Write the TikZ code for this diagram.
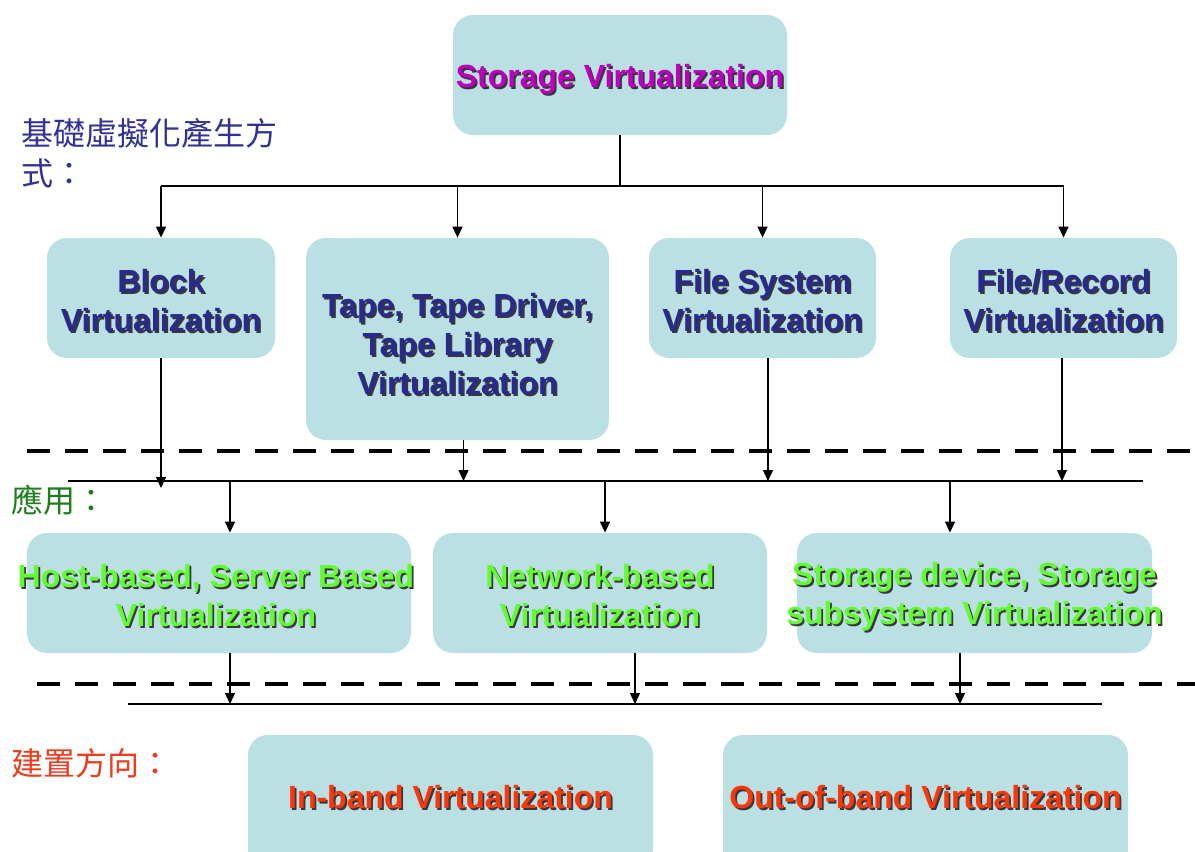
\documentclass[tikz,border=0pt]{standalone}
\usepackage{fontspec}
\setmainfont{Liberation Sans}
\newfontfamily\cjk{Noto Sans CJK TC}
\usetikzlibrary{arrows.meta}

\definecolor{boxfill}{RGB}{186,224,227}
\definecolor{shade}{RGB}{55,55,60}
\definecolor{titlemag}{RGB}{190,0,190}
\definecolor{navytxt}{RGB}{40,42,140}
\definecolor{limetxt}{RGB}{100,250,50}
\definecolor{redtxt}{RGB}{250,55,10}
\definecolor{cjkblue}{RGB}{50,50,150}
\definecolor{cjkgreen}{RGB}{30,125,30}
\definecolor{cjkred}{RGB}{235,60,30}

\tikzset{
  vbox/.style={fill=boxfill, rounded corners=10pt, inner sep=0pt},
  lbl/.style={font=\bfseries\fontsize{16}{19.5}\selectfont, align=center, inner sep=0pt},
  cjklbl/.style={font=\cjk\fontsize{16}{20}\selectfont, align=left, inner sep=0pt},
  conn/.style={line width=0.7pt, black},
  arr/.style={conn, -{Triangle[length=5.5pt,width=5pt]}},
  sep/.style={line width=2pt, dash pattern=on 11.5pt off 7.5pt, black},
}

% text with a dark drop shadow: name, point, colour, text
\newcommand\boxlabel[4]{%
  \node[lbl, text=shade] (#1-s) at ([shift={(0.9pt,-2.4pt)}]#2) {#4};
  \node[lbl, text=#3] (#1-t) at ([yshift=-1.5pt]#2) {#4};}

\begin{document}
\begin{tikzpicture}[x=0.5pt, y=-0.5pt]
\useasboundingbox (0,0) rectangle (1195,852);
\clip (0,0) rectangle (1195,852);
\fill[white] (0,0) rectangle (1195,852);

% separators between the levels
\draw[sep] (27,451) -- (1195,451);
\draw[sep] (37,684) -- (1195,684);

% boxes
\node[vbox, minimum width=167pt, minimum height=60pt] (top) at (620,75) {};
\node[vbox, minimum width=114pt, minimum height=60pt] (block) at (161,298) {};
\node[vbox, minimum width=151.5pt, minimum height=101pt] (tape) at (457.5,339) {};
\node[vbox, minimum width=113.5pt, minimum height=60pt] (fs) at (762.5,298) {};
\node[vbox, minimum width=113.5pt, minimum height=60pt] (fr) at (1063.5,298) {};
\node[vbox, minimum width=192pt, minimum height=60pt] (host) at (219,593) {};
\node[vbox, minimum width=167pt, minimum height=60pt] (net) at (600,593) {};
\node[vbox, minimum width=177.5pt, minimum height=60pt] (sdev) at (974.5,593) {};
\node[vbox, minimum width=202.5pt, minimum height=67.5pt] (inb) at (450.5,802.5) {};
\node[vbox, minimum width=202.5pt, minimum height=67.5pt] (outb) at (925.5,802.5) {};

% box texts
\coordinate (top-c) at ([yshift=-0.5pt]top.center);
\boxlabel{top}{top-c}{titlemag}{Storage Virtualization}
\boxlabel{block}{block.center}{navytxt}{Block\\Virtualization}
\coordinate (tape-c) at ([yshift=-1pt]tape.center);
\boxlabel{tape}{tape-c}{navytxt}{Tape, Tape Driver,\\Tape Library\\Virtualization}
\boxlabel{fs}{fs.center}{navytxt}{File System\\Virtualization}
\boxlabel{fr}{fr.center}{navytxt}{File/Record\\Virtualization}
\coordinate (host-c) at ([xshift=-1.5pt]host.center);
\boxlabel{host}{host-c}{limetxt}{Host-based, Server Based\\Virtualization}
\boxlabel{net}{net.center}{limetxt}{Network-based\\Virtualization}
\coordinate (sdev-c) at ([yshift=-0.5pt]sdev.center);
\boxlabel{sdev}{sdev-c}{limetxt}{Storage device, Storage\\subsystem Virtualization}
\coordinate (inb-c) at ([yshift=4pt]inb.center);
\boxlabel{inb}{inb-c}{redtxt}{In-band Virtualization}
\coordinate (outb-c) at ([yshift=4pt]outb.center);
\boxlabel{outb}{outb-c}{redtxt}{Out-of-band Virtualization}

% level captions
\node[cjklbl, text=cjkblue, anchor=north west] (cap1) at (21,118) {基礎虛擬化產生方\\式：};
\node[cjklbl, text=cjkgreen, anchor=west] (cap2) at (11,500) {應用：};
\node[cjklbl, text=cjkred, anchor=west] (cap3) at (11,763) {建置方向：};

% first level: root to the four kinds
\coordinate (bus1) at (620,186);
\draw[conn] (top.south) -- (top.south |- bus1);
\draw[conn] (block.north |- bus1) -- (fr.north |- bus1);
\foreach \n in {block, tape, fs, fr}
  \draw[arr] (\n.north |- bus1) -- (\n.north);

% second level: kinds to the application bus
\coordinate (bus2L) at (68,481);
\coordinate (bus2R) at (1143,481);
\draw[conn] (bus2L) -- (bus2R);
\coordinate (blockEnd) at (161,488);
\draw[arr] (block.south) -- (blockEnd);
\coordinate (tapeOut) at ([xshift=3pt]tape.south);
\draw[arr] (tapeOut) -- (tapeOut |- bus2L);
\coordinate (fsOut) at ([xshift=2.75pt]fs.south);
\draw[arr] (fsOut) -- (fsOut |- bus2L);
\coordinate (frOut) at ([xshift=-0.75pt]fr.south);
\draw[arr] (frOut) -- (frOut |- bus2L);

\coordinate (hostIn) at (230,481);
\coordinate (netIn) at (605,481);
\coordinate (sdevIn) at (950,481);
\draw[arr] (hostIn) -- (hostIn |- host.north);
\draw[arr] (netIn) -- (netIn |- net.north);
\draw[arr] (sdevIn) -- (sdevIn |- sdev.north);

% third level: applications to the build-direction bus
\coordinate (bus3L) at (128,704);
\coordinate (bus3R) at (1102,704);
\draw[conn] (bus3L) -- (bus3R);
\coordinate (hostOut) at ([xshift=5.5pt]host.south);
\coordinate (netOut) at ([xshift=17.5pt]net.south);
\coordinate (sdevOut) at ([xshift=-7.25pt]sdev.south);
\draw[arr] (hostOut) -- (hostOut |- bus3L);
\draw[arr] (netOut) -- (netOut |- bus3L);
\draw[arr] (sdevOut) -- (sdevOut |- bus3L);
\end{tikzpicture}
\end{document}
